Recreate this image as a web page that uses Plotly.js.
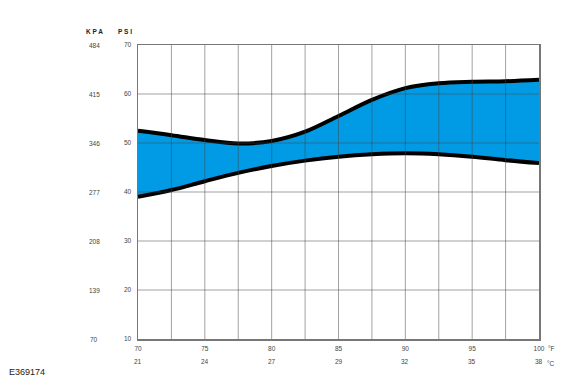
<!DOCTYPE html>
<html>
<head>
<meta charset="utf-8">
<script src="https://cdn.plot.ly/plotly-3.0.1.min.js"></script>
<style>html,body{margin:0;padding:0;background:#fff;}#chart{width:580px;height:381px;}</style>
</head>
<body>
<div id="chart"></div>
<script>
// Temperature (°F) sample points
var tempF = [70, 72.5, 75, 77.5, 80, 82.5, 85, 87.5, 90, 92.5, 95, 97.5, 100];
// Upper pressure limit (psi)
var upperPsi = [52.5, 51.6, 50.6, 49.9, 50.4, 52.3, 55.5, 58.8, 61.2, 62.2, 62.5, 62.6, 62.9];
// Lower pressure limit (psi)
var lowerPsi = [39.0, 40.4, 42.2, 43.9, 45.3, 46.4, 47.2, 47.7, 47.9, 47.7, 47.2, 46.5, 45.9];

// Axis tick labels
var fTicks = [70, 75, 80, 85, 90, 95, 100];
var cLabels = ['21', '24', '27', '29', '32', '35', '38'];
var psiTicks = [10, 20, 30, 40, 50, 60, 70];
var kpaLabels = ['70', '139', '208', '277', '346', '415', '484'];
var fGrid = [72.5, 75, 77.5, 80, 82.5, 85, 87.5, 90, 92.5, 95, 97.5];
var psiGrid = [20, 30, 40, 50, 60];

var font = 'Liberation Sans, Arial, sans-serif';
var txtColor = '#444';
var gridColor = 'rgba(70,70,70,0.5)';

var traces = [
  {x: tempF, y: lowerPsi, type: 'scatter', mode: 'lines',
   line: {color: '#000', width: 4, shape: 'spline', smoothing: 1}, hoverinfo: 'skip'},
  {x: tempF, y: upperPsi, type: 'scatter', mode: 'lines', fill: 'tonexty',
   fillcolor: '#009be4',
   line: {color: '#000', width: 4, shape: 'spline', smoothing: 1}, hoverinfo: 'skip'}
];

var shapes = [];
fGrid.forEach(function (v) {
  shapes.push({type: 'line', xref: 'x', yref: 'paper', x0: v, x1: v, y0: 0, y1: 1,
    layer: 'above', line: {color: gridColor, width: 1}});
});
psiGrid.forEach(function (v) {
  shapes.push({type: 'line', xref: 'paper', yref: 'y', x0: 0, x1: 1, y0: v, y1: v,
    layer: 'above', line: {color: gridColor, width: 1}});
});

var annotations = [];
psiTicks.forEach(function (v, i) {
  annotations.push({xref: 'paper', yref: 'y', x: 0, y: v, xshift: -44, text: kpaLabels[i],
    showarrow: false, xanchor: 'center', yanchor: 'middle', font: {family: font, size: 6.5, color: txtColor}});
});
fTicks.forEach(function (v, i) {
  annotations.push({xref: 'x', yref: 'paper', x: v, y: 0, yshift: -22, text: cLabels[i],
    showarrow: false, xanchor: 'center', yanchor: 'middle', font: {family: font, size: 6.5, color: txtColor}});
});
annotations.push({xref: 'x', yref: 'paper', x: 100, y: 0, xshift: 7, yshift: -9, text: '°F',
  showarrow: false, xanchor: 'left', yanchor: 'middle', font: {family: font, size: 6.5, color: txtColor}});
annotations.push({xref: 'x', yref: 'paper', x: 100, y: 0, xshift: 6, yshift: -24, text: '°C',
  showarrow: false, xanchor: 'left', yanchor: 'middle', font: {family: font, size: 6.5, color: txtColor}});
annotations.push({xref: 'paper', yref: 'paper', x: 0, y: 1, xshift: -44, yshift: 14, text: '<b>K P A</b>',
  showarrow: false, xanchor: 'center', yanchor: 'middle', font: {family: font, size: 6.5, color: '#222'}});
annotations.push({xref: 'paper', yref: 'paper', x: 0, y: 1, xshift: -13, yshift: 14, text: '<b>P S I</b>',
  showarrow: false, xanchor: 'center', yanchor: 'middle', font: {family: font, size: 6.5, color: '#222'}});
annotations.push({xref: 'paper', yref: 'paper', x: 0, y: 0, xshift: -131, yshift: -33, text: 'E369174',
  showarrow: false, xanchor: 'left', yanchor: 'middle', font: {family: font, size: 9, color: '#222'}});

var layout = {
  width: 580, height: 381,
  margin: {l: 138, r: 41, t: 45, b: 42, pad: 0},
  paper_bgcolor: '#fff', plot_bgcolor: '#fff',
  showlegend: false,
  font: {family: font, size: 6.5, color: txtColor},
  xaxis: {range: [70, 100], tickvals: fTicks, ticktext: fTicks.map(String),
    showgrid: false, zeroline: false, showline: true, linecolor: '#777', linewidth: 1.5, mirror: true,
    ticks: 'outside', ticklen: 3, tickcolor: 'rgba(0,0,0,0)', tickfont: {family: font, size: 6.5, color: txtColor}, fixedrange: true},
  yaxis: {range: [10, 70], tickvals: psiTicks, ticktext: psiTicks.map(String),
    showgrid: false, zeroline: false, showline: true, linecolor: '#777', linewidth: 1.5, mirror: true,
    ticks: 'outside', ticklen: 4, tickcolor: 'rgba(0,0,0,0)', tickfont: {family: font, size: 6.5, color: txtColor}, fixedrange: true},
  shapes: shapes,
  annotations: annotations
};

Plotly.newPlot('chart', traces, layout, {displayModeBar: false, staticPlot: true});
</script>
</body>
</html>
